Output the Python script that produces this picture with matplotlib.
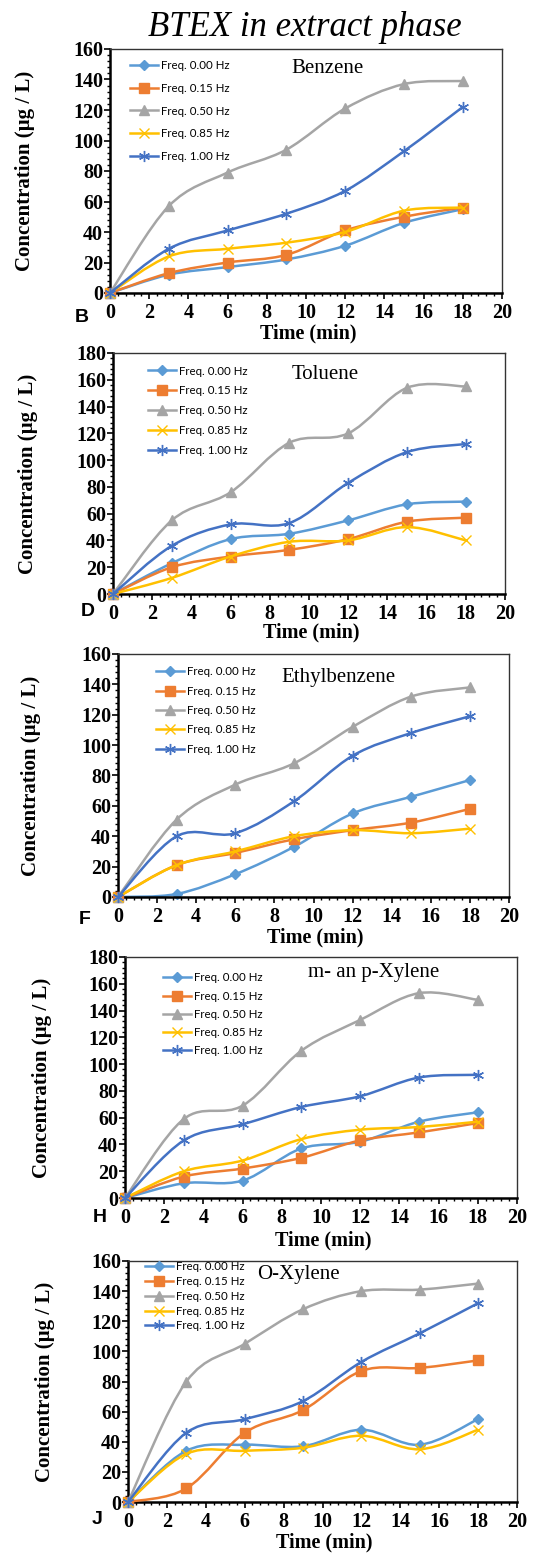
import numpy as np
import matplotlib
matplotlib.use('Agg')
import matplotlib.pyplot as plt
from matplotlib.path import Path
from matplotlib.patches import PathPatch
from matplotlib.lines import Line2D
from matplotlib.ticker import MultipleLocator

# sampling times (min)
time_min = [0, 3, 6, 9, 12, 15, 18]

# legend labels, one per frequency
freq_labels = ['Freq. 0.00 Hz', 'Freq. 0.15 Hz', 'Freq. 0.50 Hz',
               'Freq. 0.85 Hz', 'Freq. 1.00 Hz']

# concentrations (ug/L), rows follow freq_labels
benzene = [
    [0, 12, 17, 22, 31, 46, 55],
    [0, 13, 20, 25, 41, 50, 56],
    [0, 57, 79, 94, 121, 137, 139],
    [0, 24, 29, 33, 40, 54, 56],
    [0, 29, 41, 52, 67, 93, 122],
]
toluene = [
    [0, 23, 41, 45, 55, 67, 69],
    [0, 20, 28, 33, 41, 54, 57],
    [0, 55, 76, 113, 120, 154, 155],
    [0, 12, 28, 39, 40, 50, 40],
    [0, 36, 52, 53, 83, 106, 112],
]
ethylbenzene = [
    [0, 2, 15, 33, 55, 66, 77],
    [0, 21, 29, 38, 44, 49, 58],
    [0, 51, 74, 88, 112, 132, 138],
    [0, 21, 30, 40, 44, 42, 45],
    [0, 40, 42, 63, 93, 108, 119],
]
mp_xylene = [
    [0, 11, 13, 37, 42, 57, 64],
    [0, 16, 22, 30, 43, 49, 56],
    [0, 59, 69, 110, 133, 153, 148],
    [0, 20, 28, 44, 51, 53, 57],
    [0, 43, 55, 68, 76, 90, 92],
]
o_xylene = [
    [0, 34, 38, 37, 48, 38, 55],
    [0, 9, 46, 61, 87, 89, 94],
    [0, 80, 105, 128, 140, 141, 145],
    [0, 32, 34, 36, 44, 35, 48],
    [0, 46, 55, 67, 93, 112, 132],
]

# excel default palette and markers
colors = ['#5B9BD5', '#ED7D31', '#A5A5A5', '#FFC000', '#4472C4']
markers = ['D', 's', '^', 'x', (6, 2, 0)]
msizes = [5, 6.5, 6.5, 7, 8]

W, H = 534, 1554
fig = plt.figure(figsize=(W / 100, H / 100), dpi=100)

SERIF = 'Liberation Serif'


def smooth_path(x, y):
    # excel style smoothed line: cubic bezier through every point
    x = np.asarray(x, float)
    y = np.asarray(y, float)
    px = np.concatenate([[x[0]], x, [x[-1]]])
    py = np.concatenate([[y[0]], y, [y[-1]]])
    verts = [(x[0], y[0])]
    codes = [Path.MOVETO]
    for i in range(1, len(x)):
        p0 = np.array([px[i - 1], py[i - 1]])
        p1 = np.array([px[i], py[i]])
        p2 = np.array([px[i + 1], py[i + 1]])
        p3 = np.array([px[i + 2], py[i + 2]])
        c1 = p1 + (p2 - p0) / 6.0
        c2 = p2 - (p3 - p1) / 6.0
        verts += [tuple(c1), tuple(c2), tuple(p2)]
        codes += [Path.CURVE4] * 3
    return Path(verts, codes)


def px_rect(l, t, r, b):
    return [l / W, 1 - b / H, (r - l) / W, (b - t) / H]


# (data, ymax, rect, name, name pos, legend pos, legend spacing,
#  panel letter pos, xlabel y, ylabel x)
panels = [
    (benzene, 160, (110, 49, 502, 293), 'Benzene', (0.554, 0.922),
     (0.051, 0.953), 1.0, 'B', (82, 318), 333, 25),
    (toluene, 180, (113, 353, 505, 594), 'Toluene', (0.541, 0.909),
     (0.089, 0.948), 0.77, 'D', (88, 612), 632, 28),
    (ethylbenzene, 160, (118, 654, 509, 897), 'Ethylbenzene', (0.563, 0.905),
     (0.097, 0.949), 0.72, 'F', (85, 920), 937, 31),
    (mp_xylene, 180, (125, 957, 517, 1198), 'm- an p-Xylene', (0.633, 0.934),
     (0.097, 0.936), 0.63, 'H', (100, 1218), 1240, 42),
    (o_xylene, 160, (128, 1261, 517, 1502), 'O-Xylene', (0.437, 0.942),
     (0.044, 0.998), 0.32, 'J', (97, 1520), 1542, 45),
]

for (data, ymax, rect, name, npos, lpos, lsp, letter, letpos,
     xlab_y, ylab_x) in panels:
    ax = fig.add_axes(px_rect(*rect))
    for i in range(5):
        ax.add_patch(PathPatch(smooth_path(time_min, data[i]), fill=False,
                               edgecolor=colors[i], lw=1.8,
                               zorder=2 + i, clip_on=False))
        ax.plot(time_min, data[i], ls='none', marker=markers[i],
                ms=msizes[i], color=colors[i], mec=colors[i], mew=1.0,
                zorder=2.5 + i, clip_on=False)
    ax.set_xlim(0, 20)
    ax.set_ylim(0, ymax)
    ax.xaxis.set_major_locator(MultipleLocator(2))
    ax.xaxis.set_minor_locator(MultipleLocator(0.4))
    ax.yaxis.set_major_locator(MultipleLocator(20))
    ax.yaxis.set_minor_locator(MultipleLocator(4))
    ax.tick_params(which='major', direction='out', length=4, width=1.2,
                   labelsize=14.5)
    ax.tick_params(which='minor', direction='out', length=2.5, width=1.0)
    ax.tick_params(axis='x', pad=3)
    ax.tick_params(axis='y', pad=1)
    for lab in ax.get_xticklabels() + ax.get_yticklabels():
        lab.set_fontfamily(SERIF)
        lab.set_fontweight('bold')
    for s in ['left', 'bottom']:
        ax.spines[s].set_linewidth(1.8)
    for s in ['top', 'right']:
        ax.spines[s].set_linewidth(1.0)
        ax.spines[s].set_color('#333333')

    ax.text(npos[0], npos[1], name, transform=ax.transAxes, ha='center',
            va='center', fontsize=15, family=SERIF)

    handles = [Line2D([], [], color=colors[i], lw=1.8, marker=markers[i],
                      ms=msizes[i], mec=colors[i]) for i in range(5)]
    ax.legend(handles, freq_labels, loc='upper left', bbox_to_anchor=lpos,
              frameon=False, borderpad=0, borderaxespad=0, handlelength=2.4,
              handletextpad=0.3, labelspacing=lsp,
              prop={'family': 'Lato', 'size': 8.3})

    fig.text(letpos[0] / W, 1 - letpos[1] / H, letter, ha='center',
             va='center', fontsize=14, fontweight='bold',
             family='Liberation Sans')
    cx = (rect[0] + rect[2]) / 2 + 2
    fig.text(cx / W, 1 - xlab_y / H, 'Time (min)', ha='center', va='center',
             fontsize=14.5, fontweight='bold', family=SERIF)
    cy = (rect[1] + rect[3]) / 2
    fig.text(ylab_x / W, 1 - cy / H, 'Concentration (µg / L)', ha='center',
             va='center', rotation=90, fontsize=15, fontweight='bold',
             family=SERIF)

fig.text(305 / W, 1 - 27 / H, 'BTEX in extract phase', ha='center',
         va='center', fontsize=25, style='italic', family=SERIF)

fig.savefig('out.png', dpi=100)
